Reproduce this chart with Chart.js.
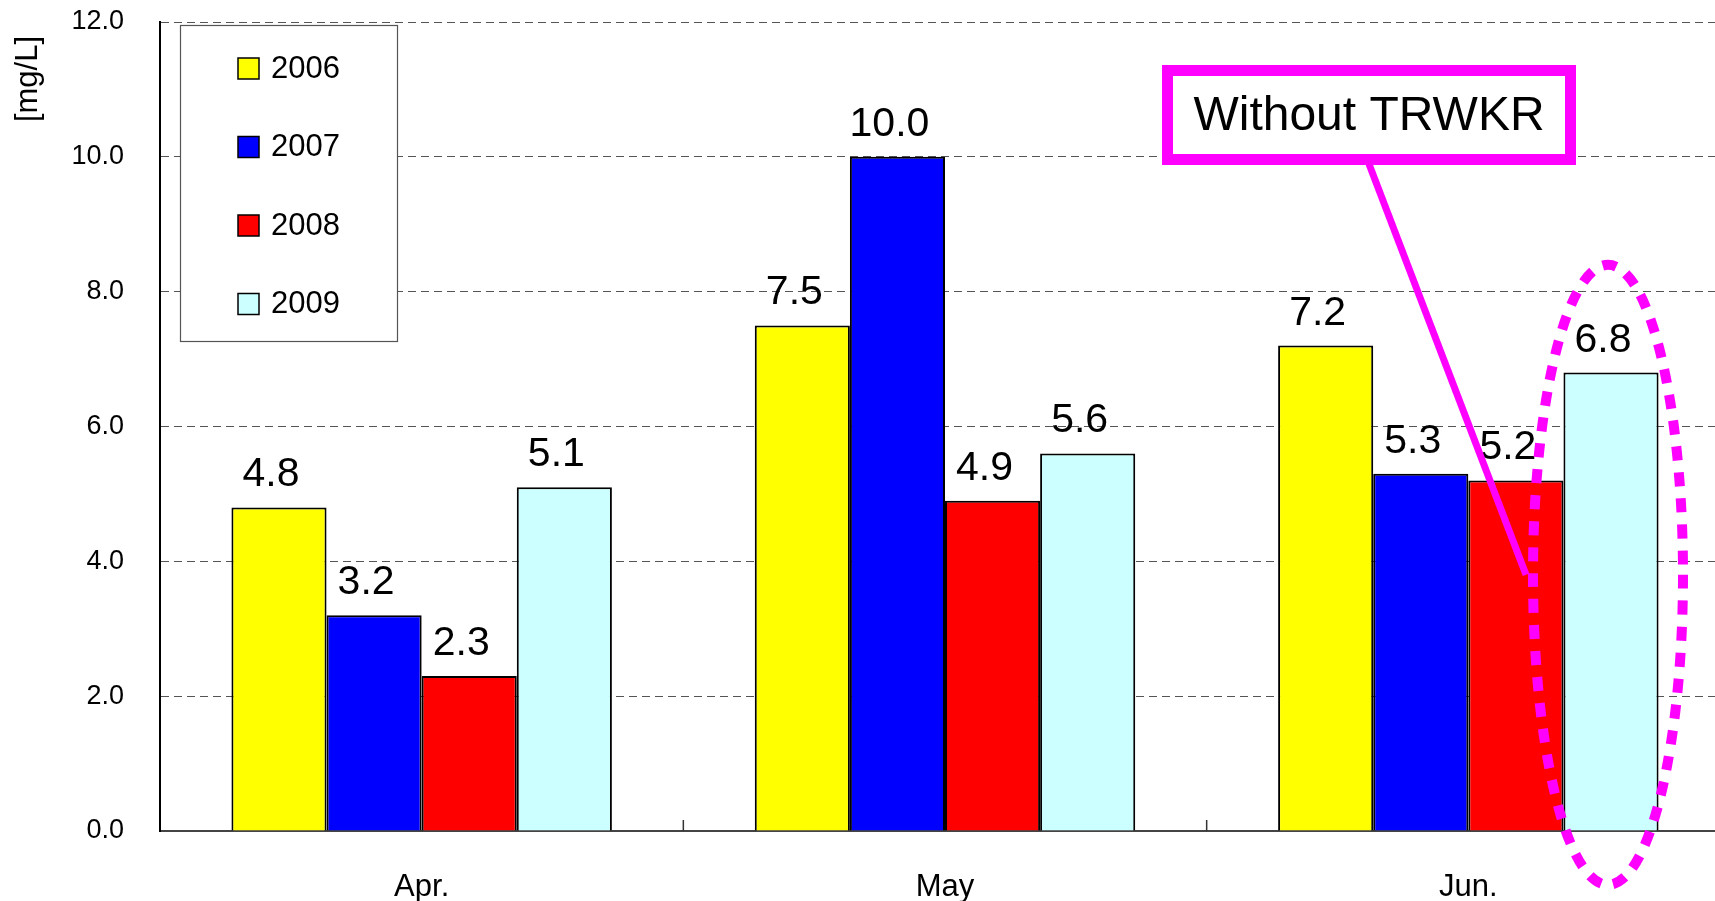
<!DOCTYPE html>
<html>
<head>
<meta charset="utf-8">
<script src="https://cdn.jsdelivr.net/npm/chart.js@4"></script>
<style>
  html, body { margin: 0; padding: 0; background: #fff; overflow: hidden; }
  #wrap { width: 1730px; height: 901px; }
</style>
</head>
<body>
<div id="wrap"><canvas id="nChart"></canvas></div>
<script>
// MONTHLY CONCENTRATION - BAR

const months = ["Apr.", "May", "Jun."];
const years = ["2006", "2007", "2008", "2009"];
const yearColors = ["#FFFF00", "#0000FF", "#FF0000", "#CCFFFF"];

const v2006 = [4.8, 7.5, 7.2];
const v2007 = [3.2, 10.0, 5.3];
const v2008 = [2.3, 4.9, 5.2];
const v2009 = [5.1, 5.6, 6.8];

const yTicks = [0, 2, 4, 6, 8, 10, 12];
const unitLabel = "[mg/L]";
const noteText = "Without TRWKR";

const FONT = "'Liberation Sans', Arial, sans-serif";

const seriesValues = [v2006, v2007, v2008, v2009];

const chartData = {
    labels: months,
    datasets: years.map(function (y, i) {
        return {
            label: y,
            data: seriesValues[i],
            backgroundColor: yearColors[i],
            borderColor: "#000",
            borderWidth: 2,
            barPercentage: 1,
            categoryPercentage: 0.727
        };
    })
};

// value labels over the bars
const valueLabels = {
    id: "valueLabels",
    afterDatasetsDraw(chart) {
        const ctx = chart.ctx;
        ctx.save();
        ctx.font = "41px " + FONT;
        ctx.fillStyle = "#000";
        ctx.textAlign = "center";
        ctx.textBaseline = "alphabetic";
        chart.data.datasets.forEach(function (ds, i) {
            chart.getDatasetMeta(i).data.forEach(function (bar, j) {
                ctx.fillText(ds.data[j].toFixed(1), bar.x - 8, bar.y - 21);
            });
        });
        ctx.restore();
    }
};

// legend box, axis unit, small x ticks, and the note
const extras = {
    id: "extras",
    afterDraw(chart) {
        const ctx = chart.ctx;
        const area = chart.chartArea;
        const x = chart.scales.x;
        const y = chart.scales.y;

        // small tick marks between months
        ctx.save();
        ctx.strokeStyle = "#333";
        ctx.lineWidth = 1.5;
        for (let i = 0; i < months.length - 1; i++) {
            const px = (x.getPixelForValue(i) + x.getPixelForValue(i + 1)) / 2;
            ctx.beginPath();
            ctx.moveTo(px, area.bottom);
            ctx.lineTo(px, area.bottom - 11);
            ctx.stroke();
        }
        ctx.restore();

        // unit label
        ctx.save();
        ctx.translate(28, 79);
        ctx.rotate(-Math.PI / 2);
        ctx.font = "31px " + FONT;
        ctx.fillStyle = "#000";
        ctx.textAlign = "center";
        ctx.textBaseline = "middle";
        ctx.fillText(unitLabel, 0, 0);
        ctx.restore();

        // legend
        ctx.save();
        ctx.fillStyle = "#fff";
        ctx.fillRect(180, 25, 218, 317);
        ctx.strokeStyle = "#555";
        ctx.lineWidth = 1.2;
        ctx.strokeRect(180.5, 25.5, 217, 316);
        ctx.font = "31px " + FONT;
        ctx.textBaseline = "middle";
        ctx.textAlign = "left";
        chart.data.datasets.forEach(function (ds, i) {
            const cy = 68 + i * 78.5;
            ctx.fillStyle = ds.backgroundColor;
            ctx.fillRect(238, cy - 10, 21, 21);
            ctx.strokeStyle = "#000";
            ctx.lineWidth = 1.5;
            ctx.strokeRect(238, cy - 10, 21, 21);
            ctx.fillStyle = "#000";
            ctx.fillText(ds.label, 271, cy + 1);
        });
        ctx.restore();

        // dotted ellipse around Jun. 2009
        const bar = chart.getDatasetMeta(3).data[2];
        const cx = bar.x - 3;
        const cy = y.getPixelForValue(3.8);
        ctx.save();
        ctx.strokeStyle = "#FF00FF";
        ctx.lineWidth = 10;
        ctx.setLineDash([14, 12]);
        ctx.beginPath();
        ctx.ellipse(cx, cy, 75, 310, 0, 0, Math.PI * 2);
        ctx.stroke();
        ctx.restore();

        // note box and pointer
        ctx.save();
        ctx.strokeStyle = "#FF00FF";
        ctx.lineWidth = 7;
        ctx.beginPath();
        ctx.moveTo(1369, 164);
        ctx.lineTo(cx - 82, cy);
        ctx.stroke();
        ctx.fillStyle = "#fff";
        ctx.fillRect(1167, 70, 403, 90);
        ctx.lineWidth = 11;
        ctx.strokeRect(1167.5, 70.5, 403, 89);
        ctx.fillStyle = "#000";
        ctx.font = "48px " + FONT;
        ctx.textAlign = "center";
        ctx.textBaseline = "middle";
        ctx.fillText(noteText, 1369, 117);
        ctx.restore();
    }
};

const nChart = new Chart(document.getElementById("nChart"), {
    type: "bar",
    data: chartData,
    options: {
        responsive: true,
        maintainAspectRatio: false,
        animation: false,
        layout: { padding: { top: 22, left: 0, right: 0, bottom: 0 } },
        plugins: {
            legend: { display: false },
            tooltip: { enabled: false }
        },
        scales: {
            x: {
                grid: { display: false },
                border: { color: "#444", width: 2 },
                ticks: {
                    color: "#000",
                    font: { family: FONT, size: 31 },
                    padding: 30
                },
                afterFit(scale) { scale.height = 70; }
            },
            y: {
                min: 0,
                max: 12,
                afterBuildTicks(scale) {
                    scale.ticks = yTicks.map(function (v) { return { value: v }; });
                },
                grid: { color: "#555", lineWidth: 1, drawTicks: false },
                border: { color: "#000", width: 2, dash: [8, 5] },
                ticks: {
                    color: "#000",
                    font: { family: FONT, size: 27 },
                    padding: 36,
                    callback: function (v) { return Number(v).toFixed(1); }
                },
                afterFit(scale) {
                    scale.width = 160;
                    scale.paddingTop = 0;
                    scale.paddingBottom = 0;
                }
            }
        }
    },
    plugins: [valueLabels, extras]
});
</script>
</body>
</html>
